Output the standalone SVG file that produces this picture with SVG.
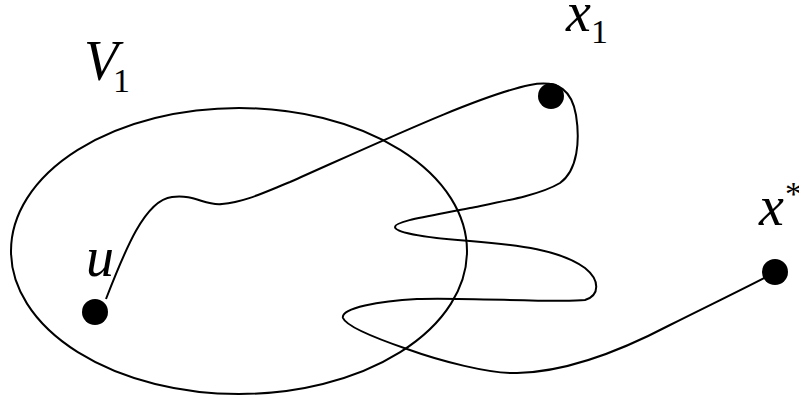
<svg xmlns="http://www.w3.org/2000/svg" width="799" height="398" viewBox="0 0 799 398">
<style>
.ln{fill:none;stroke:#000;stroke-width:2}
.dot{fill:#000}
</style>
<rect width="799" height="398" fill="#fff"/>
<g id="V1">
<ellipse class="ln" cx="239" cy="251" rx="228" ry="143"/>
<text x="84" y="80" font-family="Liberation Serif" font-style="italic" font-size="56">V</text>
<text x="113" y="92" font-family="Liberation Serif" font-size="34">1</text>
</g>
<g id="connectors">
<path class="ln" d="M106,299 C125,250 145,200 172,197 C195,194 205,206 222,204 C245,202 265,192 290,182 C380,142 480,95 530,85 C560,79 572,92 576,115 C580,140 578,170 560,183 C540,195 505,201 470,208 C430,216 395,221 395,227 C395,233 430,238 470,241 C520,245 560,250 585,268 C600,280 600,295 585,300 C560,303 460,297 417,299 C380,301 340,308 343,318 C346,326 375,338 407,349 C440,361 490,374 517,373 C570,372 630,346 670,325 C710,305 745,288 768,276"/>
</g>
<g id="u">
<circle class="dot" cx="95" cy="312" r="13"/>
<text x="86" y="276" font-family="Liberation Serif" font-style="italic" font-size="56">u</text>
</g>
<g id="x1">
<circle class="dot" cx="551" cy="96" r="13"/>
<text x="566" y="31" font-family="Liberation Serif" font-style="italic" font-size="56">x</text>
<text x="591" y="43" font-family="Liberation Serif" font-size="34">1</text>
</g>
<g id="xstar">
<circle class="dot" cx="775" cy="272" r="13"/>
<text x="759" y="225" font-family="Liberation Serif" font-style="italic" font-size="56">x</text>
<text x="785" y="205" font-family="Liberation Serif" font-size="34">*</text>
</g>
</svg>
